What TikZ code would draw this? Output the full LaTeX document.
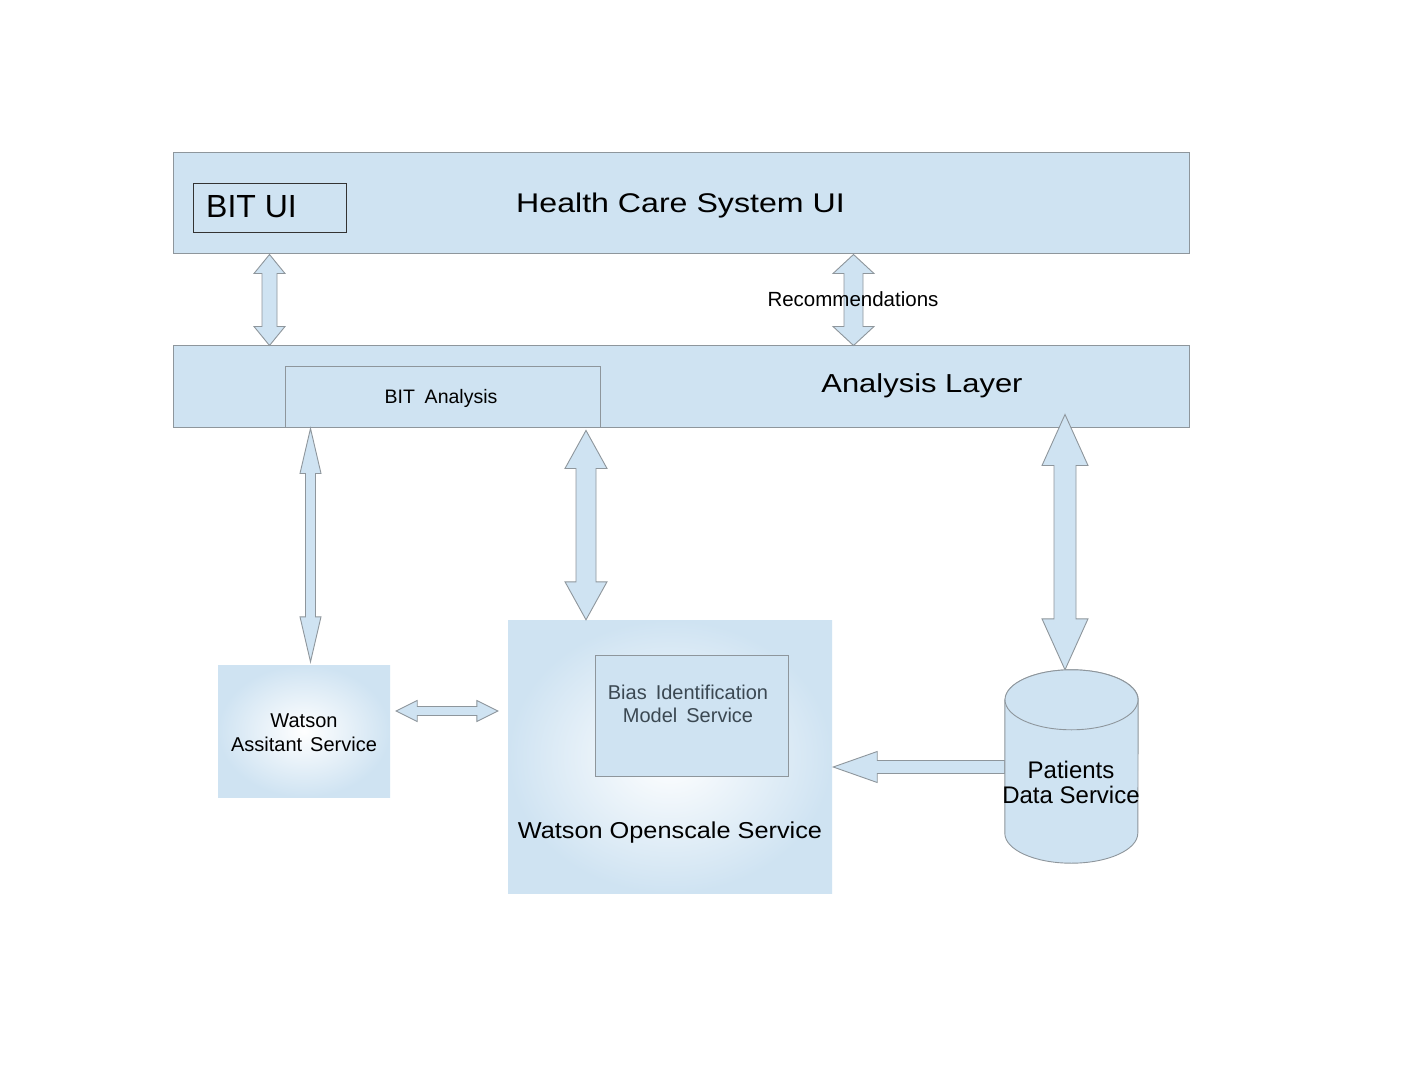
\documentclass[tikz,border=0pt]{standalone}
\usepackage{fontspec}
\setmainfont{Liberation Sans}
\newfontfamily\widefont[FakeStretch=1.19]{Liberation Sans}
\newfontfamily\midfont[FakeStretch=1.1]{Liberation Sans}
\usetikzlibrary{calc}
\definecolor{boxblue}{HTML}{CFE3F2}
\definecolor{edgegray}{HTML}{8E969C}
\definecolor{biastext}{HTML}{3B4852}
% vertical double arrow: top tip, bottom tip, half head, half shaft, head length
\newcommand\vdblarrow[5]{%
  \path let \p1=(#1), \p2=(#2) in [arrowbody]
    (\p1) -- (\x1+#3pt,\y1-#5pt) -- (\x1+#4pt,\y1-#5pt) -- (\x1+#4pt,\y2+#5pt)
    -- (\x1+#3pt,\y2+#5pt) -- (\x1,\y2) -- (\x1-#3pt,\y2+#5pt) -- (\x1-#4pt,\y2+#5pt)
    -- (\x1-#4pt,\y1-#5pt) -- (\x1-#3pt,\y1-#5pt) -- cycle;}
% horizontal double arrow: left tip, right tip, half head, half shaft, head length
\newcommand\hdblarrow[5]{%
  \path let \p1=(#1), \p2=(#2) in [arrowbody]
    (\p1) -- (\x1+#5pt,\y1+#3pt) -- (\x1+#5pt,\y1+#4pt) -- (\x2-#5pt,\y1+#4pt)
    -- (\x2-#5pt,\y1+#3pt) -- (\x2,\y1) -- (\x2-#5pt,\y1-#3pt) -- (\x2-#5pt,\y1-#4pt)
    -- (\x1+#5pt,\y1-#4pt) -- (\x1+#5pt,\y1-#3pt) -- cycle;}
% horizontal single arrow pointing left: tip, tail, half head, half shaft, head length
\newcommand\hleftarrow[5]{%
  \path let \p1=(#1), \p2=(#2) in [arrowbody]
    (\p1) -- (\x1+#5pt,\y1+#3pt) -- (\x1+#5pt,\y1+#4pt) -- (\x2,\y1+#4pt)
    -- (\x2,\y1-#4pt) -- (\x1+#5pt,\y1-#4pt) -- (\x1+#5pt,\y1-#3pt) -- cycle;}
\begin{document}
\begin{tikzpicture}[x=1pt,y=-1pt,
  layerbox/.style={draw=edgegray, fill=boxblue, line width=1pt, inner sep=0pt},
  innerbox/.style={draw=edgegray, fill=boxblue, line width=0.9pt, inner sep=0pt},
  gradbox/.style={inner color=white, outer color=boxblue, inner sep=0pt},
  arrowbody/.style={draw=edgegray, fill=boxblue, line width=0.9pt, line join=miter},
  txt/.style={inner sep=0pt, anchor=base, align=center, text=black}]
\useasboundingbox[fill=white] (0,0) rectangle (1422,1067);

% layers
\node[layerbox, minimum width=1016pt, minimum height=101pt] (hcs) at (681,203.5) {};
\node[draw=black!80, line width=0.7pt, fill=boxblue, minimum width=153pt, minimum height=49pt, inner sep=0pt] (bitui) at (269.5,207.5) {};
\node[layerbox, minimum width=1016pt, minimum height=81pt] (analysis) at (681,386.5) {};
\node[innerbox, minimum width=315pt, minimum height=61pt] (bitan) at (442.5,396.5) {};

% services
\node[gradbox, minimum width=172pt, minimum height=132pt] (wa) at (304,731) {};
\node[gradbox, minimum width=324pt, minimum height=273pt] (wos) at (670,756.5) {};
\node[innerbox, minimum width=193pt, minimum height=121pt] (bias) at (691.5,715.5) {};
\node[minimum width=133pt, minimum height=193pt, inner sep=0pt] (pds) at (1071.5,766.5) {};

% texts
\node[txt, font=\widefont\fontsize{27}{30}\selectfont] (hcst) at (680.5,213) {Health Care System UI};
\node[txt, anchor=base west, font=\fontsize{32}{36}\selectfont] (bituit) at (206,218) {BIT UI};
\node[txt, font=\widefont\fontsize{26}{28}\selectfont] (analt) at (922,392) {Analysis Layer};
\node[txt, font=\fontsize{19.5}{23}\selectfont] (bitant) at (441,403) {BIT\hspace{0.5em}Analysis};

% arrows
\vdblarrow{hcs.south -| bitui.south}{analysis.north -| bitui.south}{15.5}{7.5}{19}
\vdblarrow{hcs.south -| 853.5,0}{analysis.north -| 853.5,0}{20.5}{9.5}{19}
\node[txt, font=\fontsize{20.5}{24}\selectfont] (rect) at (853,307) {Recommendations};
\vdblarrow{[yshift=-1pt]bitan.south -| 310.5,0}{[yshift=3pt]wa.north -| 310.5,0}{10.5}{5}{45}
\vdblarrow{[yshift=-3pt]bitan.south -| 586,0}{wos.north -| 586,0}{21}{10}{38}
\vdblarrow{[yshift=13pt]analysis.south -| 1065,0}{pds.north -| 1065,0}{23}{11}{51}
\hdblarrow{$(wa.east |- 0,711)+(6,0)$}{$(wos.west |- 0,711)+(-10,0)$}{10.5}{4.5}{21}
\hleftarrow{$(wos.east |- 0,767)+(1,0)$}{pds.west |- 0,767}{15.5}{6.5}{44}

% cylinder
\draw[arrowbody] ($(pds.north west)+(0,30)$) -- ($(pds.south west)+(0,-30)$)
  arc[start angle=180, end angle=360, x radius=66.5pt, y radius=30pt]
  -- ($(pds.north east)+(0,30)$)
  arc[start angle=0, end angle=180, x radius=66.5pt, y radius=30pt] -- cycle;
\draw[arrowbody] ($(pds.north)+(0,30)$) ellipse[x radius=66.5pt, y radius=30pt];

% service texts (base anchor = baseline of the last line)
\node[txt, font=\fontsize{20}{24}\selectfont] (wat) at (304,751) {Watson\\Assitant\hspace{0.4em}Service};
\node[txt, font=\fontsize{20}{23}\selectfont, text=biastext] (biast) at (688,722) {Bias\hspace{0.45em}Identification\\Model\hspace{0.45em}Service};
\node[txt, font=\midfont\fontsize{23}{26}\selectfont] (wost) at (670,838) {Watson Openscale Service};
\node[txt, font=\fontsize{24}{25}\selectfont] (pdst) at (1071,803) {Patients\\Data Service};
\end{tikzpicture}
\end{document}
